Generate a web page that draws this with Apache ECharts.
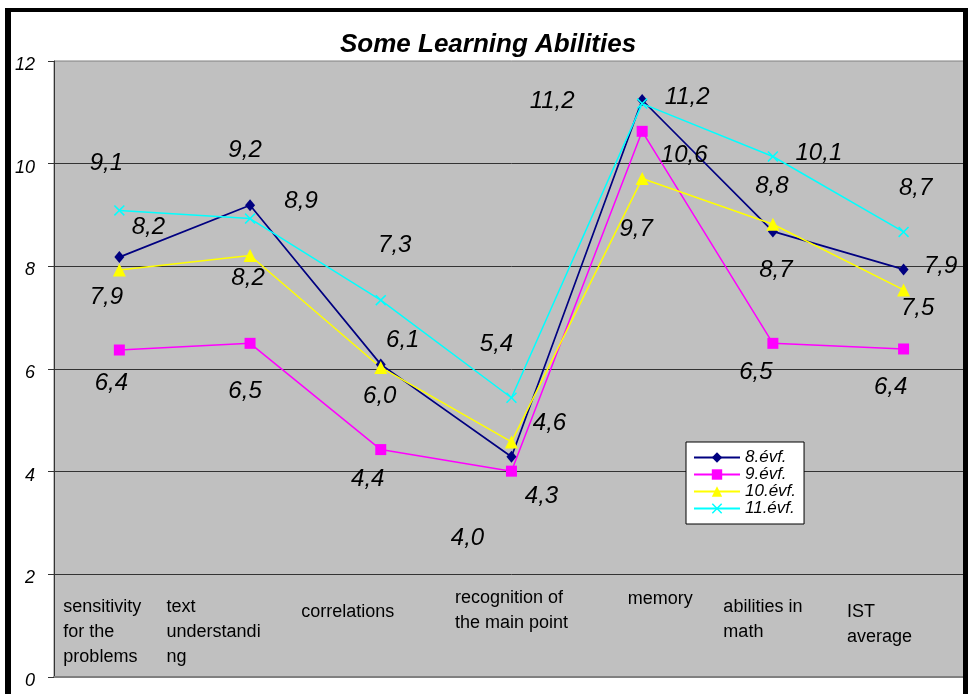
<!DOCTYPE html>
<html><head><meta charset="utf-8">
<script src="https://cdn.jsdelivr.net/npm/echarts@6/dist/echarts.min.js"></script>
<style>html,body{margin:0;padding:0;background:#fff}#c{width:970px;height:694px}</style>
</head><body><div id="c"></div>
<script>
// ---- data ----
const categories = ['sensitivity\nfor the\nproblems', 'text\nunderstandi\nng', 'correlations', 'recognition of\nthe main point', 'memory', 'abilities in\nmath', 'IST\naverage'];
const seriesNames = ['8.évf.', '9.évf.', '10.évf.', '11.évf.'];
const grade8  = [8.18, 9.19, 6.09, 4.29, 11.24, 8.68, 7.94];
const grade9  = [6.37, 6.50, 4.43, 4.01, 10.63, 6.50, 6.39];
const grade10 = [7.93, 8.21, 6.03, 4.58, 9.71, 8.82, 7.54];
const grade11 = [9.09, 8.93, 7.34, 5.44, 11.17, 10.14, 8.67];
const yTicks = [0, 2, 4, 6, 8, 10, 12];

// ---- styling ----
const FONT = 'Arial, "Liberation Sans", sans-serif';
const colors = ['#000080', '#FF00FF', '#FFFF00', '#00FFFF'];
const symbols = ['diamond', 'rect', 'triangle', 'path://M0,1L1,0L5,4L9,0L10,1L6,5L10,9L9,10L5,6L1,10L0,9L4,5Z'];
const symbolSizes = [[10, 12], 11, 13, 11];
// data-label displacement (px) relative to each point, as placed in the original
const labelOffsets = [
  [[29,-30],[-5,-55],[22,-24],[30,40],[45,-3],[3,39],[37,-3]],
  [[-8,33],[-5,48],[-13,30],[-44,67],[42,24],[-17,29],[-13,38]],
  [[-13,27],[-2,23],[-1,29],[38,-19],[-6,51],[-1,-38],[14,18]],
  [[-13,-47],[51,-17],[14,-55],[-15,-53],[-90,-2],[46,-3],[12,-44]]
];
// category label layout: [padLeft, padRight, spacerHeight]
const catLayout = [[8,0,10.5],[0,47,10.5],[0,39,15.5],[7,0,2],[91,0,2.5],[21,0,10.5],[7,0,15.5]];

const values = [grade8, grade9, grade10, grade11];
const fmt = v => v.toFixed(1).replace('.', ',');

const rich = {};
catLayout.forEach((c, i) => {
  rich['g' + i] = {fontSize: 1, lineHeight: c[2], height: c[2], align: 'left'};
  rich['c' + i] = {fontSize: 18, lineHeight: 25, width: 120, align: 'left', padding: [0, c[1], 0, c[0]], color: '#000', fontFamily: FONT};
});

const series = values.map((vals, s) => ({
  name: seriesNames[s],
  type: 'line',
  data: vals.map((v, i) => ({value: v, label: {offset: labelOffsets[s][i]}})),
  symbol: symbols[s],
  symbolSize: symbolSizes[s],
  color: colors[s],
  lineStyle: {color: colors[s], width: s === 0 ? 1.7 : 1.5},
  itemStyle: {color: colors[s]},
  label: {
    show: true, position: 'inside', formatter: p => fmt(p.value),
    fontSize: 24, fontStyle: 'italic', color: '#000', fontFamily: FONT
  },
  emphasis: {disabled: true},
  animation: false
}));

const chart = echarts.init(document.getElementById('c'), null, {renderer: 'canvas'});
chart.setOption({
  backgroundColor: '#fff',
  animation: false,
  title: {
    text: 'Some Learning Abilities', left: 340, top: 32, padding: 0,
    textStyle: {fontSize: 26, fontWeight: 'bold', fontStyle: 'italic', color: '#000', fontFamily: FONT}
  },
  legend: {
    orient: 'vertical', left: 686, top: 442, padding: [7, 8, 7, 7],
    backgroundColor: '#fff', borderColor: '#000', borderWidth: 1, borderRadius: 0,
    itemWidth: 46, itemHeight: 13, itemGap: 0, itemTextGap: 6,
    textStyle: {fontSize: 17, lineHeight: 17, fontStyle: 'italic', color: '#000', fontFamily: FONT},
    data: seriesNames
  },
  grid: {
    left: 54, right: 0, top: 61, bottom: 17, containLabel: false,
    show: true, backgroundColor: '#C0C0C0', borderColor: '#808080', borderWidth: 1
  },
  xAxis: {
    type: 'category', data: categories, boundaryGap: true,
    axisLine: {show: true, lineStyle: {color: '#808080', width: 2}},
    axisTick: {show: false},
    splitLine: {show: false},
    axisLabel: {
      interval: 0, margin: -93, color: '#000', fontSize: 18, fontFamily: FONT,
      formatter: (v, i) => '{g' + i + '| }\n{c' + i + '|' + v + '}',
      rich: rich
    }
  },
  yAxis: {
    type: 'value', min: yTicks[0], max: yTicks[yTicks.length - 1], interval: yTicks[1] - yTicks[0],
    axisLine: {show: true, lineStyle: {color: '#333', width: 1}},
    axisTick: {show: true, length: 6, lineStyle: {color: '#333'}},
    axisLabel: {margin: 19, fontSize: 18, fontStyle: 'italic', color: '#000', fontFamily: FONT, verticalAlign: 'top', lineHeight: 8},
    splitLine: {show: true, showMinLine: false, showMaxLine: false, lineStyle: {color: '#333', width: 1}}
  },
  series: series,
  graphic: [
    {type: 'rect', z: 100, shape: {x: 5, y: 8, width: 963, height: 4}, style: {fill: '#000'}},
    {type: 'rect', z: 100, shape: {x: 5, y: 8, width: 6, height: 686}, style: {fill: '#000'}},
    {type: 'rect', z: 100, shape: {x: 963, y: 8, width: 5, height: 686}, style: {fill: '#000'}},
    {type: 'rect', z: 100, shape: {x: 968, y: 0, width: 2, height: 694}, style: {fill: '#fff'}}
  ]
});
</script></body></html>
